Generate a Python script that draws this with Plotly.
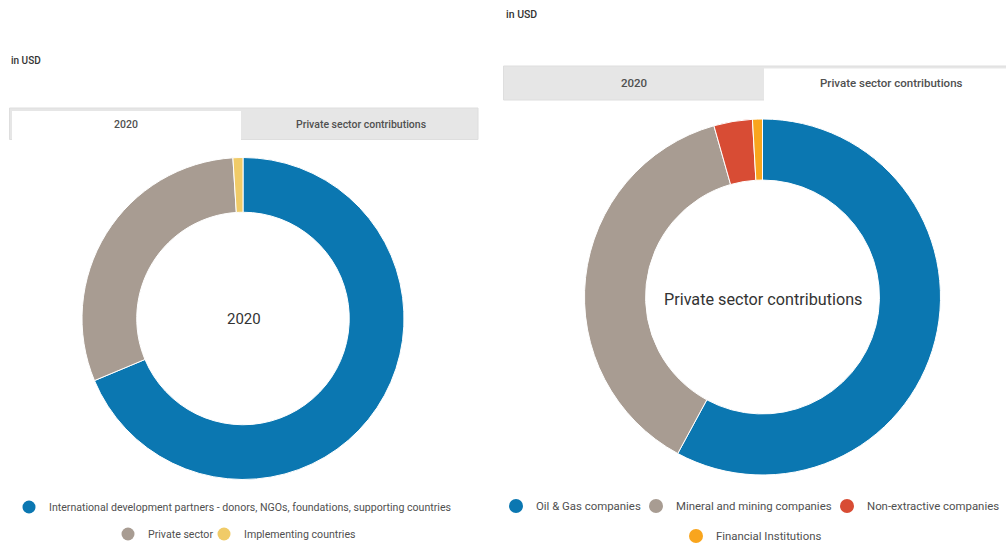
import plotly.graph_objects as go

# ---- data -------------------------------------------------------------
funding_labels = [
    "International development partners - donors, NGOs, foundations, supporting countries",
    "Private sector",
    "Implementing countries",
]
funding_share = [68.7, 30.3, 1.0]
funding_colors = ["#0b77b1", "#a89c92", "#f0cb68"]

private_labels = [
    "Oil & Gas companies",
    "Mineral and mining companies",
    "Non-extractive companies",
    "Financial Institutions",
]
private_share = [57.9, 37.7, 3.5, 0.9]
private_colors = ["#0b77b1", "#a89c92", "#d84c34", "#f9a51d"]

tab_labels = ["2020", "Private sector contributions"]
unit_label = "in USD"

# ---- canvas helpers (pixel -> paper coordinates) -----------------------
W, H = 1006, 547


def px(x):
    return x / W


def py(y):
    return 1 - y / H


FONT = "Roboto, Arial, sans-serif"
LEG = "#505050"

fig = go.Figure()

# donut: funding sources 2020
cx, cy, r = 243, 318.5, 161
fig.add_trace(go.Pie(
    labels=funding_labels, values=funding_share,
    marker=dict(colors=funding_colors, line=dict(color="white", width=1)),
    hole=0.66, sort=False, direction="clockwise", rotation=0,
    textinfo="none", hoverinfo="label+percent", showlegend=False,
    domain=dict(x=[px(cx - r), px(cx + r)], y=[py(cy + r), py(cy - r)]),
))

# donut: private sector contributions
cx2, cy2, r2 = 762.5, 297, 178
fig.add_trace(go.Pie(
    labels=private_labels, values=private_share,
    marker=dict(colors=private_colors, line=dict(color="white", width=1)),
    hole=0.657, sort=False, direction="clockwise", rotation=0,
    textinfo="none", hoverinfo="label+percent", showlegend=False,
    domain=dict(x=[px(cx2 - r2), px(cx2 + r2)], y=[py(cy2 + r2), py(cy2 - r2)]),
))

# legend layout: one legend per entry -> (marker centre x, centre y, font size, marker size)
legend_slots = [
    (32, 507, 10.6, 13),
    (131, 534, 10.6, 13),
    (227, 534, 10.6, 13),
    (519, 506, 11.4, 14),
    (659, 506, 11.4, 14),
    (850, 506, 11.4, 14),
    (699, 536, 11.4, 14),
]
entries = list(zip(funding_labels + private_labels, funding_colors + private_colors))

legend_layouts = {}
for i, ((lab, col), (mx, my, fs, ms)) in enumerate(zip(entries, legend_slots)):
    key = "legend" if i == 0 else f"legend{i + 1}"
    fig.add_trace(go.Scatter(
        x=[None], y=[None], mode="markers", name=lab, legend=key,
        marker=dict(color=col, size=ms), hoverinfo="skip",
    ))
    # plotly centres the legend symbol 20px from the legend's left edge
    legend_layouts[key] = dict(
        orientation="h", x=px(mx - 23), y=py(my), xanchor="left", yanchor="middle",
        font=dict(family=FONT, size=fs, color=LEG), bgcolor="rgba(0,0,0,0)",
        borderwidth=0, itemclick=False, itemdoubleclick=False,
    )

shapes = [
    # tab bar, left panel
    dict(type="rect", x0=px(9.5), x1=px(478), y0=py(139.5), y1=py(108),
         fillcolor="#e6e6e6", line=dict(color="#dedede", width=1)),
    dict(type="rect", x0=px(12), x1=px(241), y0=py(141), y1=py(111),
         fillcolor="white", line=dict(width=0)),
    # tab bar, right panel
    dict(type="rect", x0=px(503.5), x1=px(1010), y0=py(100), y1=py(66),
         fillcolor="#e6e6e6", line=dict(color="#dedede", width=1)),
    dict(type="rect", x0=px(764), x1=px(1010), y0=py(101), y1=py(68.5),
         fillcolor="white", line=dict(width=0)),
]

annotations = [
    dict(text=unit_label, x=px(9), y=py(61), xanchor="left", yanchor="middle",
         font=dict(family=FONT, size=10, color="#333333", weight=500)),
    dict(text=unit_label, x=px(504), y=py(14), xanchor="left", yanchor="middle",
         font=dict(family=FONT, size=10.5, color="#333333", weight=500)),
    dict(text=tab_labels[0], x=px(126), y=py(124.5), xanchor="center", yanchor="middle",
         font=dict(family=FONT, size=10.5, color=LEG, weight=500)),
    dict(text=tab_labels[1], x=px(361), y=py(124.5), xanchor="center", yanchor="middle",
         font=dict(family=FONT, size=10.5, color=LEG, weight=500)),
    dict(text=tab_labels[0], x=px(634), y=py(83), xanchor="center", yanchor="middle",
         font=dict(family=FONT, size=11.5, color=LEG, weight=500)),
    dict(text=tab_labels[1], x=px(891), y=py(83), xanchor="center", yanchor="middle",
         font=dict(family=FONT, size=11.5, color=LEG, weight=500)),
    # donut centre titles
    dict(text=tab_labels[0], x=px(cx + 1), y=py(319), xanchor="center", yanchor="middle",
         font=dict(family=FONT, size=15, color="#333333")),
    dict(text=tab_labels[1], x=px(cx2), y=py(299), xanchor="center", yanchor="middle",
         font=dict(family=FONT, size=16.2, color="#333333")),
]
for a in annotations:
    a.update(xref="paper", yref="paper", showarrow=False)
for s in shapes:
    s.update(xref="paper", yref="paper", layer="below")

fig.update_layout(
    width=W, height=H,
    margin=dict(l=0, r=0, t=0, b=0, autoexpand=False),
    paper_bgcolor="white", plot_bgcolor="white",
    font=dict(family=FONT),
    xaxis=dict(visible=False), yaxis=dict(visible=False),
    showlegend=True,
    shapes=shapes, annotations=annotations,
    **legend_layouts,
)

fig.write_html("out.html", config={"displayModeBar": False})
